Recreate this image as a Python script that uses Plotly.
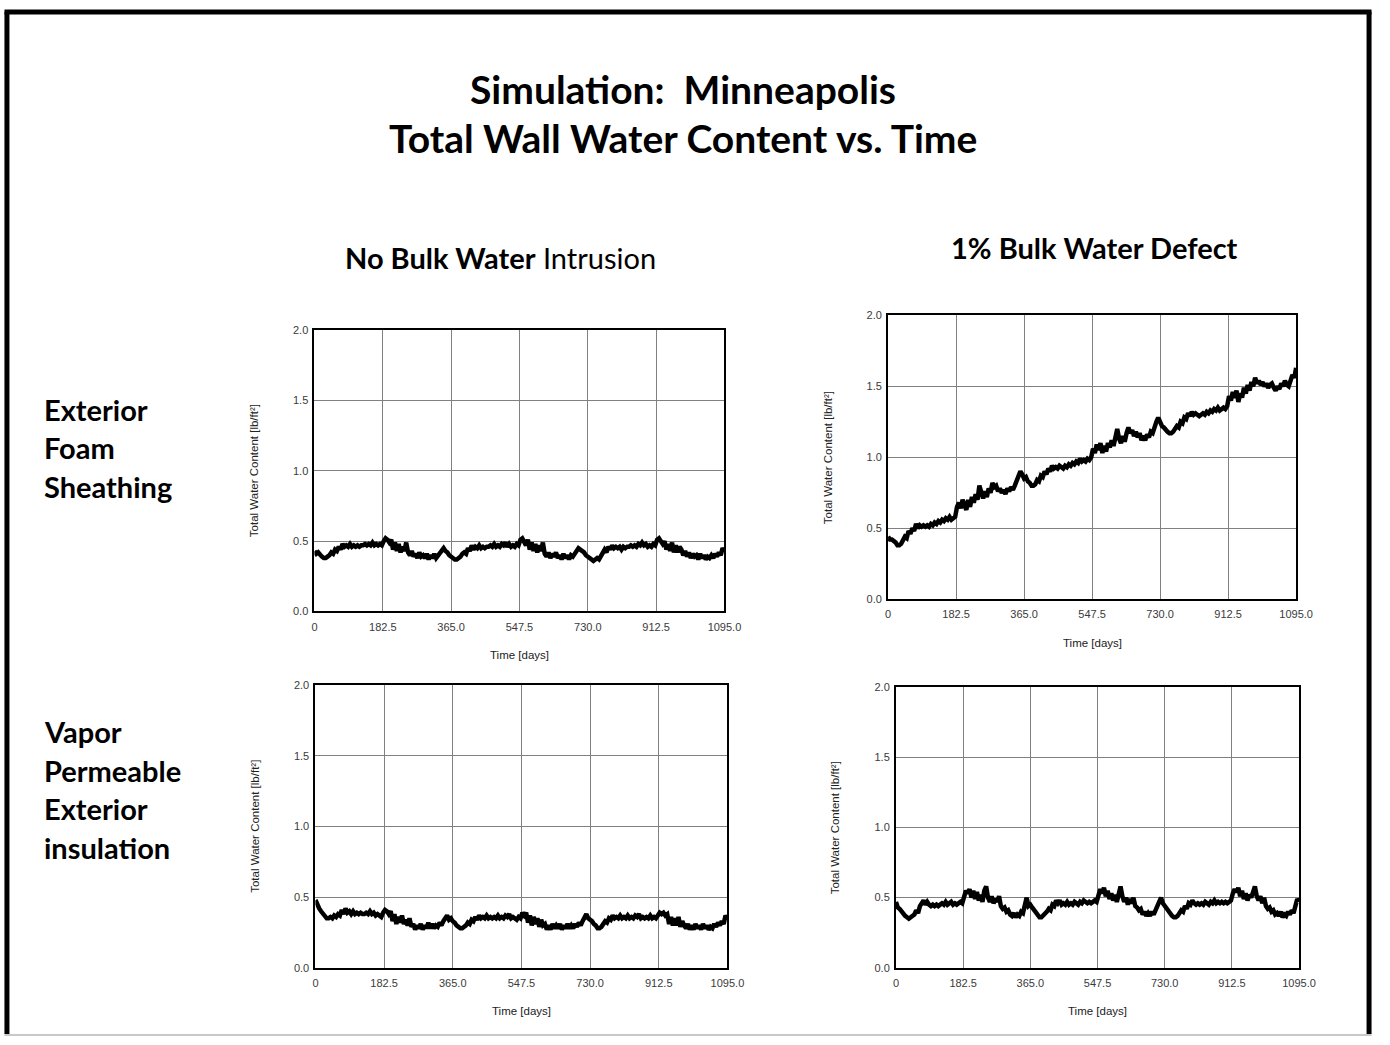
import plotly.graph_objects as go

W, H = 1390, 1045

# ---------------- data ----------------
days = list(range(0, 1096, 5))

x_tick_vals = [0, 182.5, 365.0, 547.5, 730.0, 912.5, 1095.0]
x_tick_text = ["0", "182.5", "365.0", "547.5", "730.0", "912.5", "1095.0"]
y_tick_vals = [0.0, 0.5, 1.0, 1.5, 2.0]
y_tick_text = ["0.0", "0.5", "1.0", "1.5", "2.0"]

# Exterior foam sheathing, no bulk water intrusion
foam_no_bulk = [
    0.43, 0.41, 0.42, 0.40, 0.39, 0.38, 0.38, 0.39, 0.40, 0.42, 0.41, 0.44, 0.43, 0.46, 0.44, 0.48, 0.46, 0.47, 0.46, 0.48,
    0.46, 0.47, 0.46, 0.47, 0.46, 0.47, 0.47, 0.48, 0.47, 0.48, 0.47, 0.49, 0.47, 0.48, 0.47, 0.48, 0.47, 0.50, 0.52, 0.51,
    0.49, 0.51, 0.44, 0.49, 0.43, 0.48, 0.42, 0.46, 0.43, 0.49, 0.42, 0.40, 0.43, 0.39, 0.41, 0.38, 0.42, 0.39, 0.40, 0.38,
    0.41, 0.37, 0.40, 0.38, 0.41, 0.38, 0.40, 0.41, 0.44, 0.45, 0.43, 0.42, 0.40,
    0.39, 0.38, 0.37, 0.37, 0.38, 0.39, 0.41, 0.42, 0.41, 0.45, 0.43, 0.47, 0.44, 0.46, 0.45, 0.47, 0.45, 0.46, 0.45, 0.46,
    0.46, 0.47, 0.46, 0.48, 0.46, 0.47, 0.46, 0.48, 0.47, 0.49, 0.46, 0.48, 0.46, 0.47, 0.46, 0.48, 0.47, 0.51, 0.52, 0.50,
    0.47, 0.51, 0.44, 0.49, 0.43, 0.48, 0.42, 0.47, 0.43, 0.49, 0.41, 0.39, 0.42, 0.38, 0.41, 0.39, 0.42, 0.38, 0.40, 0.37,
    0.41, 0.38, 0.40, 0.37, 0.40, 0.39, 0.41, 0.43, 0.45, 0.44, 0.43, 0.42, 0.40,
    0.39, 0.38, 0.37, 0.36, 0.37, 0.38, 0.37, 0.39, 0.41, 0.44, 0.42, 0.46, 0.44, 0.47, 0.45, 0.46, 0.45, 0.46, 0.44, 0.46,
    0.45, 0.46, 0.46, 0.47, 0.46, 0.47, 0.46, 0.48, 0.47, 0.49, 0.47, 0.48, 0.46, 0.47, 0.46, 0.48, 0.47, 0.51, 0.52, 0.50,
    0.48, 0.50, 0.44, 0.48, 0.43, 0.49, 0.42, 0.47, 0.42, 0.46, 0.44, 0.40, 0.43, 0.39, 0.42, 0.38, 0.41, 0.39, 0.40, 0.37,
    0.41, 0.38, 0.40, 0.37, 0.39, 0.38, 0.40, 0.38, 0.41, 0.39, 0.42, 0.40, 0.45,
    0.43,
]

# Exterior foam sheathing, 1% bulk water defect
foam_bulk = [
    0.44, 0.42, 0.42, 0.41, 0.40, 0.38, 0.38, 0.39, 0.41, 0.44, 0.43, 0.48, 0.46, 0.50, 0.48, 0.53, 0.50, 0.52, 0.51, 0.52,
    0.51, 0.52, 0.51, 0.53, 0.52, 0.54, 0.53, 0.55, 0.54, 0.56, 0.55, 0.57, 0.56, 0.58, 0.56, 0.57, 0.58, 0.65, 0.68, 0.64,
    0.70, 0.66, 0.63, 0.70, 0.65, 0.72, 0.68, 0.74, 0.70, 0.80, 0.74, 0.71, 0.76, 0.72, 0.78, 0.75, 0.82, 0.79, 0.80, 0.76,
    0.78, 0.75, 0.77, 0.74, 0.78, 0.76, 0.79, 0.77, 0.80, 0.84, 0.86, 0.90, 0.88,
    0.85, 0.86, 0.83, 0.82, 0.80, 0.80, 0.81, 0.84, 0.83, 0.87, 0.86, 0.90, 0.88, 0.92, 0.90, 0.94, 0.92, 0.93, 0.92, 0.94,
    0.93, 0.92, 0.94, 0.93, 0.95, 0.94, 0.96, 0.95, 0.97, 0.96, 0.99, 0.97, 0.98, 0.97, 0.99, 0.98, 1.00, 1.06, 1.03, 1.09,
    1.05, 1.10, 1.03, 1.08, 1.04, 1.10, 1.07, 1.12, 1.08, 1.14, 1.20, 1.13, 1.10, 1.15, 1.11, 1.17, 1.21, 1.17, 1.19, 1.15,
    1.18, 1.14, 1.17, 1.12, 1.15, 1.12, 1.16, 1.14, 1.18, 1.17, 1.22, 1.25, 1.28,
    1.24, 1.22, 1.21, 1.19, 1.18, 1.17, 1.17, 1.18, 1.20, 1.22, 1.21, 1.25, 1.24, 1.28, 1.27, 1.31, 1.29, 1.32, 1.30, 1.31,
    1.30, 1.29, 1.30, 1.31, 1.30, 1.32, 1.31, 1.33, 1.32, 1.34, 1.33, 1.35, 1.33, 1.34, 1.35, 1.34, 1.36, 1.43, 1.40, 1.46,
    1.42, 1.47, 1.39, 1.45, 1.42, 1.49, 1.45, 1.51, 1.47, 1.53, 1.50, 1.56, 1.52, 1.54, 1.51, 1.53, 1.50, 1.52, 1.49, 1.51,
    1.52, 1.49, 1.47, 1.50, 1.48, 1.52, 1.50, 1.54, 1.51, 1.50, 1.53, 1.58, 1.56,
    1.63,
]

# Vapor permeable exterior insulation, no bulk water intrusion
vapor_no_bulk = [
    0.48, 0.44, 0.42, 0.40, 0.38, 0.37, 0.35, 0.35, 0.36, 0.35, 0.37, 0.36, 0.38, 0.37, 0.41, 0.38, 0.42, 0.39, 0.40, 0.38,
    0.40, 0.38, 0.39, 0.38, 0.39, 0.38, 0.38, 0.39, 0.38, 0.40, 0.38, 0.39, 0.37, 0.38, 0.37, 0.36, 0.39, 0.41, 0.40, 0.38,
    0.40, 0.33, 0.38, 0.31, 0.36, 0.32, 0.37, 0.31, 0.34, 0.30, 0.35, 0.29, 0.31, 0.27, 0.30, 0.28, 0.31, 0.27, 0.30, 0.28,
    0.32, 0.28, 0.31, 0.28, 0.30, 0.29, 0.32, 0.30, 0.33, 0.35, 0.37, 0.34, 0.35,
    0.33, 0.32, 0.30, 0.29, 0.28, 0.28, 0.29, 0.30, 0.32, 0.31, 0.34, 0.33, 0.36, 0.34, 0.37, 0.35, 0.36, 0.35, 0.37, 0.35,
    0.36, 0.35, 0.36, 0.35, 0.37, 0.35, 0.36, 0.35, 0.37, 0.36, 0.38, 0.35, 0.36, 0.35, 0.34, 0.36, 0.35, 0.39, 0.37, 0.39,
    0.32, 0.37, 0.30, 0.36, 0.31, 0.35, 0.29, 0.34, 0.30, 0.31, 0.27, 0.30, 0.27, 0.31, 0.28, 0.30, 0.28, 0.31, 0.27, 0.30,
    0.28, 0.31, 0.28, 0.30, 0.28, 0.31, 0.29, 0.32, 0.30, 0.33, 0.36, 0.38, 0.35,
    0.34, 0.33, 0.31, 0.30, 0.28, 0.28, 0.29, 0.31, 0.33, 0.32, 0.35, 0.34, 0.37, 0.35, 0.36, 0.35, 0.37, 0.35, 0.36, 0.35,
    0.37, 0.35, 0.36, 0.35, 0.37, 0.36, 0.38, 0.35, 0.36, 0.35, 0.36, 0.35, 0.37, 0.35, 0.36, 0.35, 0.37, 0.39, 0.38, 0.39,
    0.37, 0.38, 0.31, 0.36, 0.30, 0.35, 0.30, 0.36, 0.29, 0.33, 0.30, 0.28, 0.31, 0.27, 0.30, 0.27, 0.31, 0.28, 0.30, 0.27,
    0.31, 0.28, 0.30, 0.27, 0.29, 0.28, 0.31, 0.29, 0.32, 0.30, 0.33, 0.31, 0.37,
    0.34,
]

# Vapor permeable exterior insulation, 1% bulk water defect
vapor_bulk = [
    0.47, 0.43, 0.42, 0.40, 0.39, 0.37, 0.36, 0.35, 0.36, 0.37, 0.38, 0.41, 0.39, 0.44, 0.46, 0.48, 0.45, 0.47, 0.45, 0.44,
    0.45, 0.44, 0.45, 0.44, 0.45, 0.46, 0.45, 0.47, 0.45, 0.46, 0.47, 0.45, 0.46, 0.45, 0.46, 0.47, 0.46, 0.52, 0.55, 0.53,
    0.56, 0.50, 0.55, 0.49, 0.54, 0.48, 0.52, 0.47, 0.55, 0.58, 0.50, 0.47, 0.51, 0.46, 0.49, 0.47, 0.51, 0.44, 0.42, 0.43,
    0.40, 0.41, 0.38, 0.37, 0.39, 0.36, 0.38, 0.37, 0.40, 0.39, 0.46, 0.50, 0.44,
    0.45, 0.43, 0.41, 0.39, 0.37, 0.36, 0.36, 0.37, 0.39, 0.40, 0.42, 0.41, 0.45, 0.44, 0.48, 0.46, 0.48, 0.45, 0.46, 0.45,
    0.47, 0.45, 0.46, 0.45, 0.47, 0.46, 0.45, 0.47, 0.46, 0.48, 0.47, 0.46, 0.47, 0.46, 0.47, 0.48, 0.47, 0.52, 0.56, 0.53,
    0.57, 0.51, 0.55, 0.49, 0.53, 0.48, 0.52, 0.47, 0.54, 0.58, 0.51, 0.47, 0.50, 0.45, 0.49, 0.46, 0.50, 0.44, 0.43, 0.41,
    0.42, 0.38, 0.40, 0.37, 0.39, 0.37, 0.40, 0.38, 0.41, 0.44, 0.47, 0.50, 0.46,
    0.44, 0.42, 0.41, 0.39, 0.37, 0.36, 0.36, 0.37, 0.39, 0.41, 0.40, 0.44, 0.42, 0.46, 0.45, 0.48, 0.46, 0.45, 0.46, 0.45,
    0.46, 0.45, 0.47, 0.46, 0.45, 0.47, 0.46, 0.48, 0.46, 0.47, 0.46, 0.47, 0.46, 0.47, 0.46, 0.47, 0.48, 0.53, 0.56, 0.54,
    0.57, 0.51, 0.55, 0.49, 0.53, 0.48, 0.52, 0.50, 0.54, 0.58, 0.51, 0.48, 0.51, 0.46, 0.50, 0.44, 0.42, 0.43, 0.40, 0.41,
    0.38, 0.39, 0.37, 0.40, 0.36, 0.38, 0.37, 0.40, 0.38, 0.41, 0.39, 0.44, 0.49,
    0.47,
]

for s in (foam_no_bulk, foam_bulk, vapor_no_bulk, vapor_bulk):
    assert len(s) == len(days), (len(s), len(days))

# ---------------- layout helpers ----------------
def px_x(x):
    return x / W

def px_y(y):
    return 1 - y / H

# panel pixel boxes: (left, right, top, bottom)
panels = [
    (316, 732, 328, 612.5, foam_no_bulk),
    (898, 1312, 313, 600, foam_bulk),
    (317, 735, 687, 973, vapor_no_bulk),
    (906, 1315, 689, 973, vapor_bulk),
]

fig = go.Figure()
tick_font = dict(family="Liberation Sans, Arial, sans-serif", size=11, color="#3a3a3a")
label_font = dict(family="Liberation Sans, Arial, sans-serif", size=11.5, color="#222222")

annotations = []
for i, (l, r, t, b, ys) in enumerate(panels, start=1):
    xa = "x" if i == 1 else f"x{i}"
    ya = "y" if i == 1 else f"y{i}"
    fig.add_trace(go.Scatter(x=days, y=ys, mode="lines",
                             line=dict(color="black", width=4.5),
                             xaxis=xa, yaxis=ya, showlegend=False))
    axis_common = dict(showgrid=True, gridcolor="#808080", gridwidth=1,
                       showline=True, linecolor="black", linewidth=2, mirror=True,
                       ticks="", zeroline=False, tickfont=tick_font, fixedrange=True)
    fig.update_layout(**{
        ("xaxis" if i == 1 else f"xaxis{i}"): dict(
            domain=[px_x(l), px_x(r)], range=[0, 1095], anchor=ya,
            tickmode="array", tickvals=x_tick_vals, ticktext=x_tick_text,
            ticklabelstandoff=4, **axis_common),
        ("yaxis" if i == 1 else f"yaxis{i}"): dict(
            domain=[px_y(b), px_y(t)], range=[0, 2], anchor=xa,
            tickmode="array", tickvals=y_tick_vals, ticktext=y_tick_text,
            ticklabelstandoff=2, **axis_common),
    })
    # axis titles
    annotations.append(dict(text="Time [days]", x=px_x((l + r) / 2), y=px_y(b + 44),
                            xref="paper", yref="paper", showarrow=False,
                            xanchor="center", yanchor="middle", font=label_font))
    annotations.append(dict(text="Total Water Content [lb/ft²]", x=px_x(l - 61),
                            y=px_y((t + b) / 2), xref="paper", yref="paper",
                            showarrow=False, textangle=-90, xanchor="center",
                            yanchor="middle", font=label_font))

head_font = "Lato, Noto Sans, sans-serif"
annotations += [
    dict(text="<b>Simulation:  Minneapolis</b>", x=px_x(690), y=px_y(84),
         font=dict(family=head_font, size=39, color="black")),
    dict(text="<b>Total Wall Water Content vs. Time</b>", x=px_x(690), y=px_y(134),
         font=dict(family=head_font, size=39, color="black")),
    dict(text="<b>No Bulk Water</b> Intrusion", x=px_x(505), y=px_y(254),
         font=dict(family=head_font, size=29, color="black")),
    dict(text="<b>1% Bulk Water Defect</b>", x=px_x(1107), y=px_y(244),
         font=dict(family=head_font, size=29, color="black")),
]
row_labels = [("Exterior", 408), ("Foam", 447), ("Sheathing", 486),
              ("Vapor", 734), ("Permeable", 773), ("Exterior", 812), ("insulation", 851)]
for txt, yy in row_labels:
    annotations.append(dict(text=f"<b>{txt}</b>", x=px_x(40), y=px_y(yy), xanchor="left",
                            font=dict(family=head_font, size=29, color="black")))
for a in annotations:
    a.setdefault("xref", "paper")
    a.setdefault("yref", "paper")
    a.setdefault("showarrow", False)
    a.setdefault("yanchor", "middle")
    a.setdefault("xanchor", "center")

shapes = [
    dict(type="line", xref="paper", yref="paper", x0=px_x(4), x1=px_x(4), y0=px_y(6), y1=px_y(1040),
         line=dict(color="black", width=5)),
    dict(type="line", xref="paper", yref="paper", x0=px_x(1386), x1=px_x(1386), y0=px_y(6), y1=px_y(1040),
         line=dict(color="black", width=5)),
    dict(type="line", xref="paper", yref="paper", x0=px_x(1.5), x1=px_x(1388.5), y0=px_y(6), y1=px_y(6),
         line=dict(color="black", width=5)),
    dict(type="line", xref="paper", yref="paper", x0=px_x(1.5), x1=px_x(1388.5), y0=px_y(1041), y1=px_y(1041),
         line=dict(color="#c8c8c8", width=2)),
]

fig.update_layout(width=W, height=H, autosize=False, margin=dict(l=0, r=0, t=0, b=0),
                  paper_bgcolor="white", plot_bgcolor="white",
                  annotations=annotations, shapes=shapes, showlegend=False)

fig.write_html("out.html", config={"displayModeBar": False, "responsive": False},
               post_script="document.body.style.margin='0';document.body.style.overflow='hidden';")
